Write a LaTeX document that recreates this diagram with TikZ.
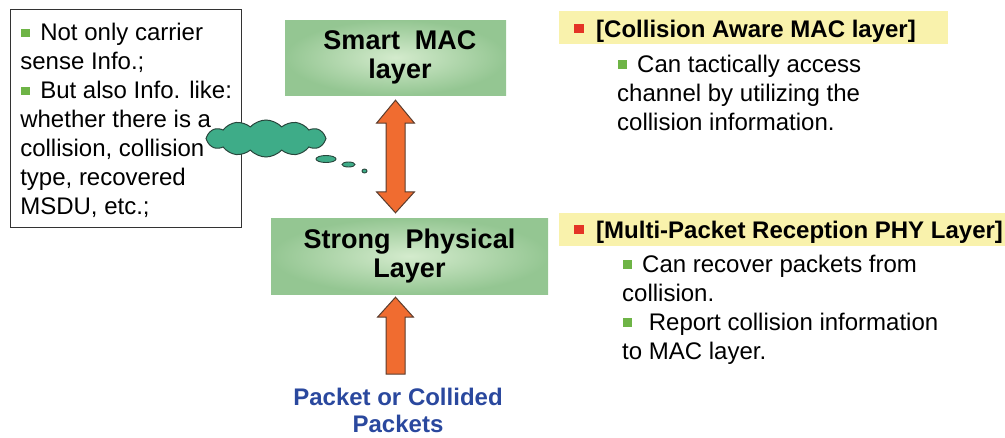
\documentclass[tikz,border=0pt]{standalone}
\usepackage{fontspec}
\setmainfont{Liberation Sans}
\usetikzlibrary{calc,shapes.symbols,shapes.geometric}

\definecolor{boxgreen}{RGB}{148,198,146}
\definecolor{boxlight}{RGB}{212,235,205}
\definecolor{bulgreen}{RGB}{110,180,70}
\definecolor{bulred}{RGB}{228,52,38}
\definecolor{bandyellow}{RGB}{249,242,172}
\definecolor{arrowfill}{RGB}{240,108,48}
\definecolor{arrowline}{RGB}{90,60,45}
\definecolor{cloudfill}{RGB}{62,172,136}
\definecolor{cloudline}{RGB}{40,70,60}
\definecolor{pktblue}{RGB}{42,72,158}

% square list bullets
\newcommand\gbul{\hspace{1pt}\textcolor{bulgreen}{\rule[3.5pt]{8.5pt}{8.5pt}}\hspace{10.5pt}}
\newcommand\rbul{\textcolor{bulred}{\rule[4pt]{9.5pt}{9.5pt}}\hspace{12.5pt}}

\tikzset{
  layerbox/.style={inner color=boxlight, outer color=boxgreen, inner sep=0pt,
    align=center, font=\bfseries\fontsize{27}{29.5}\selectfont},
  blockarrow/.style={fill=arrowfill, draw=arrowline, line width=1pt, line join=miter},
  bandbox/.style={fill=bandyellow, inner sep=0pt},
  titletext/.style={inner sep=0pt, font=\bfseries\fontsize{24}{29}\selectfont},
  bodytext/.style={inner sep=0pt, align=left, font=\fontsize{24}{29}\selectfont},
  bubble/.style={ellipse, fill=cloudfill, draw=cloudline, line width=0.9pt, inner sep=0pt},
}

\begin{document}
\begin{tikzpicture}[x=1pt,y=-1pt]
\useasboundingbox (0,0) rectangle (1005,437);

% information box on the left
\node (info) [draw=black!80, line width=1.3pt, anchor=north west, inner sep=0pt,
  minimum width=231pt, minimum height=218pt, align=left,
  font=\fontsize{24}{29}\selectfont] at (10,9)
  {\rule{0pt}{22pt}\gbul Not only carrier\\
   sense Info.;\\
   \gbul But also Info. like:\\
   whether there is a\\
   collision, collision\\
   type, recovered\\
   MSDU, etc.;\rule[-4pt]{0pt}{0pt}};

% the two protocol layers
\node (mac) [layerbox, minimum width=221pt, minimum height=75pt] at (395.5,57.5)
  {\hspace*{9pt}Smart\ \ MAC\\\hspace*{9pt}layer};
\node (phy) [layerbox, minimum width=277pt, minimum height=76pt] at (409.5,256)
  {Strong\ \ Physical\\Layer};

% thought cloud with its trailing bubbles
\node (cloud) [cloud, cloud puffs=12, cloud puff arc=95, aspect=3.2,
  fill=cloudfill, draw=cloudline, line width=1pt, inner sep=0pt,
  minimum width=120pt, minimum height=37pt] at (266,138.5) {};
\node (b1) [bubble, minimum width=20pt, minimum height=7pt] at (326,159) {};
\node (b2) [bubble, minimum width=13pt, minimum height=5pt] at (348.5,164.5) {};
\node (b3) [bubble, minimum width=5pt, minimum height=4pt] at (364.5,171) {};

% double block arrow between the layers
\coordinate (dtop) at ($(mac.south)+(0,5)$);
\coordinate (dbot) at ($(mac.south |- phy.north)+(0,-5)$);
\draw[blockarrow] (dtop) -- ++(19,23) -- ++(-9.5,0)
  -- ($(dbot)+(9.5,-21)$) -- ++(9.5,0) -- (dbot) -- ++(-19,-21) -- ++(9.5,0)
  -- ($(dtop)+(-9.5,23)$) -- ++(-9.5,0) -- cycle;

% incoming packets
\node (pkt) [font=\bfseries\fontsize{24}{27.5}\selectfont, text=pktblue,
  align=center, anchor=north, inner sep=0pt] at (398,387)
  {\rule{0pt}{18pt}Packet or Collided\\Packets};
\coordinate (utip) at ($(mac.south |- phy.south)+(0,3)$);
\draw[blockarrow] (utip) -- ++(18,20) -- ++(-8.5,0) -- ++(0,57) -- ++(-19,0)
  -- ++(0,-57) -- ++(-8.5,0) -- cycle;

% MAC layer description
\node (band1) [bandbox, minimum width=389pt, minimum height=33pt, anchor=north west] at (559,11) {};
\node (title1) [titletext, anchor=base west] at (574,37) {\rbul[Collision Aware MAC layer]};
\node (mactext) [bodytext, anchor=north west] at (617,54)
  {\rule{0pt}{18pt}\gbul Can tactically access\\
   channel by utilizing the\\
   collision information.};

% PHY layer description
\node (band2) [bandbox, minimum width=446pt, minimum height=33pt, anchor=north west] at (559,213) {};
\node (title2) [titletext, anchor=base west] at (574,238) {\rbul[Multi-Packet Reception PHY Layer]};
\node (phytext) [bodytext, anchor=north west] at (622,254)
  {\rule{0pt}{18pt}\gbul Can recover packets from\\
   collision.\\
   \gbul\ Report collision information\\
   to MAC layer.};
\end{tikzpicture}
\end{document}
